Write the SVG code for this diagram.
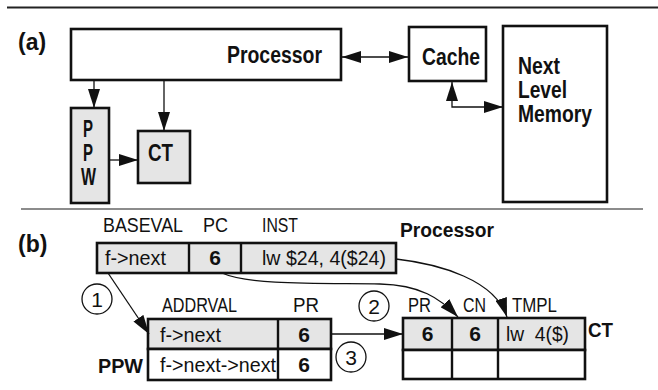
<svg xmlns="http://www.w3.org/2000/svg" width="658" height="390" viewBox="0 0 658 390">
  <style>
    .box { fill: #ffffff; stroke: #111; stroke-width: 2.6; }
    .gbox { fill: #e5e5e5; stroke: #111; stroke-width: 2.6; }
    .cell { fill: none; stroke: #111; stroke-width: 2.4; }
    .wire { fill: none; stroke: #111; stroke-width: 1.3; }
    .b { font-family: "Liberation Sans", Arial, sans-serif; font-weight: bold; font-size: 23px; fill: #111; }
    .bs { font-family: "Liberation Sans", Arial, sans-serif; font-weight: bold; font-size: 21px; fill: #111; }
    .n { font-family: "Liberation Sans", Arial, sans-serif; font-size: 21px; fill: #111; white-space: pre; }
    .circ { fill: #ffffff; stroke: #111; stroke-width: 1.3; }
  </style>
  <defs>
    <marker id="head" markerUnits="userSpaceOnUse" markerWidth="19" markerHeight="12" refX="19" refY="6" orient="auto-start-reverse">
      <path d="M0,0 L19,6 L0,12 z" fill="#111"/>
    </marker>
  </defs>

  <!-- rules -->
  <line x1="7" y1="7.5" x2="658" y2="7.5" stroke="#222" stroke-width="2"/>
  <line x1="21" y1="209" x2="643" y2="209" stroke="#8c8c8c" stroke-width="2.2"/>

  <!-- (a) block diagram -->
  <text class="b" x="18" y="50">(a)</text>

  <g id="processor">
    <rect class="box" x="71" y="29" width="270" height="51"/>
    <text class="b" x="227" y="63" textLength="95" lengthAdjust="spacingAndGlyphs">Processor</text>
  </g>
  <g id="cache">
    <rect class="box" x="409" y="27" width="77" height="54"/>
    <text class="b" x="422" y="65" textLength="58" lengthAdjust="spacingAndGlyphs">Cache</text>
  </g>
  <g id="memory">
    <rect class="box" x="503" y="26" width="104" height="176"/>
    <text class="b" x="518" y="74" textLength="42" lengthAdjust="spacingAndGlyphs">Next</text>
    <text class="b" x="518" y="98" textLength="49" lengthAdjust="spacingAndGlyphs">Level</text>
    <text class="b" x="518" y="122" textLength="74" lengthAdjust="spacingAndGlyphs">Memory</text>
  </g>
  <g id="ppw-a">
    <rect class="gbox" x="71" y="108" width="38" height="95"/>
    <text class="b" x="83" y="137" textLength="10" lengthAdjust="spacingAndGlyphs">P</text>
    <text class="b" x="83" y="161" textLength="10" lengthAdjust="spacingAndGlyphs">P</text>
    <text class="b" x="81" y="185" textLength="15" lengthAdjust="spacingAndGlyphs">W</text>
  </g>
  <g id="ct-a">
    <rect class="gbox" x="138" y="131" width="52" height="52"/>
    <text class="b" x="148" y="161" textLength="25" lengthAdjust="spacingAndGlyphs">CT</text>
  </g>

  <!-- (b) tables -->
  <text class="b" x="18" y="252">(b)</text>

  <g id="processor-b">
    <text class="n" x="103" y="232" textLength="80" lengthAdjust="spacingAndGlyphs">BASEVAL</text>
    <text class="n" x="203" y="232" textLength="25" lengthAdjust="spacingAndGlyphs">PC</text>
    <text class="n" x="262" y="232" textLength="36" lengthAdjust="spacingAndGlyphs">INST</text>
    <text class="bs" x="400" y="237" textLength="94" lengthAdjust="spacingAndGlyphs">Processor</text>
    <rect class="gbox" x="97" y="243" width="299" height="30"/>
    <line class="cell" x1="189" y1="243" x2="189" y2="273"/>
    <line class="cell" x1="241" y1="243" x2="241" y2="273"/>
    <text class="n" x="105" y="265" textLength="61" lengthAdjust="spacingAndGlyphs">f-&gt;next</text>
    <text class="bs" x="215" y="265" text-anchor="middle">6</text>
    <text class="n" x="262" y="265" textLength="124" lengthAdjust="spacingAndGlyphs">lw $24, 4($24)</text>
  </g>

  <g id="ppw-b">
    <text class="n" x="162" y="312" textLength="75" lengthAdjust="spacingAndGlyphs">ADDRVAL</text>
    <text class="n" x="293" y="312" textLength="26" lengthAdjust="spacingAndGlyphs">PR</text>
    <rect class="gbox" x="148" y="319" width="183" height="30"/>
    <rect class="box" x="148" y="349" width="183" height="31"/>
    <line class="cell" x1="278" y1="319" x2="278" y2="380"/>
    <text class="n" x="160" y="342" textLength="61" lengthAdjust="spacingAndGlyphs">f-&gt;next</text>
    <text class="bs" x="304" y="342" text-anchor="middle">6</text>
    <text class="n" x="160" y="372" textLength="116" lengthAdjust="spacingAndGlyphs">f-&gt;next-&gt;next</text>
    <text class="bs" x="304" y="372" text-anchor="middle">6</text>
    <text class="bs" x="98" y="373" textLength="45" lengthAdjust="spacingAndGlyphs">PPW</text>
  </g>

  <g id="ct-b">
    <text class="n" x="408" y="312" textLength="23" lengthAdjust="spacingAndGlyphs">PR</text>
    <text class="n" x="463" y="312" textLength="23" lengthAdjust="spacingAndGlyphs">CN</text>
    <text class="n" x="512" y="312" textLength="45" lengthAdjust="spacingAndGlyphs">TMPL</text>
    <rect class="gbox" x="403" y="318" width="182" height="32"/>
    <rect class="box" x="403" y="350" width="182" height="29"/>
    <line class="cell" x1="452" y1="318" x2="452" y2="379"/>
    <line class="cell" x1="498" y1="318" x2="498" y2="379"/>
    <text class="bs" x="427.5" y="341" text-anchor="middle">6</text>
    <text class="bs" x="475" y="341" text-anchor="middle">6</text>
    <text class="n" x="506" y="341" textLength="63" lengthAdjust="spacingAndGlyphs">lw  4($)</text>
    <text class="bs" x="588" y="337" textLength="25" lengthAdjust="spacingAndGlyphs">CT</text>
  </g>

  <g id="steps">
    <circle class="circ" cx="97" cy="299" r="15"/>
    <text class="n" x="97" y="306.5" text-anchor="middle">1</text>
    <circle class="circ" cx="374" cy="306" r="15"/>
    <text class="n" x="374" y="313.5" text-anchor="middle">2</text>
    <circle class="circ" cx="351" cy="357" r="15"/>
    <text class="n" x="351" y="364.5" text-anchor="middle">3</text>
  </g>

  <!-- connectors -->
  <g id="connectors">
    <line class="wire" x1="94" y1="80" x2="94" y2="108" marker-end="url(#head)"/>
    <line class="wire" x1="164" y1="80" x2="164" y2="131" marker-end="url(#head)"/>
    <line class="wire" x1="109" y1="160" x2="138" y2="160" marker-end="url(#head)"/>
    <line class="wire" x1="342" y1="57" x2="408" y2="57" marker-start="url(#head)" marker-end="url(#head)"/>
    <path class="wire" d="M452,82 L452,107 L503,107" marker-start="url(#head)" marker-end="url(#head)"/>
    <line class="wire" x1="108" y1="273" x2="149" y2="334" marker-end="url(#head)"/>
    <line class="wire" x1="332" y1="334" x2="403" y2="334" marker-end="url(#head)"/>
    <path class="wire" d="M222,273 C250,286 330,283 380,284 C420,285 440,298 458,317" marker-end="url(#head)"/>
    <path class="wire" d="M396,259 C440,264 495,280 507,317" marker-end="url(#head)"/>
  </g>
</svg>
